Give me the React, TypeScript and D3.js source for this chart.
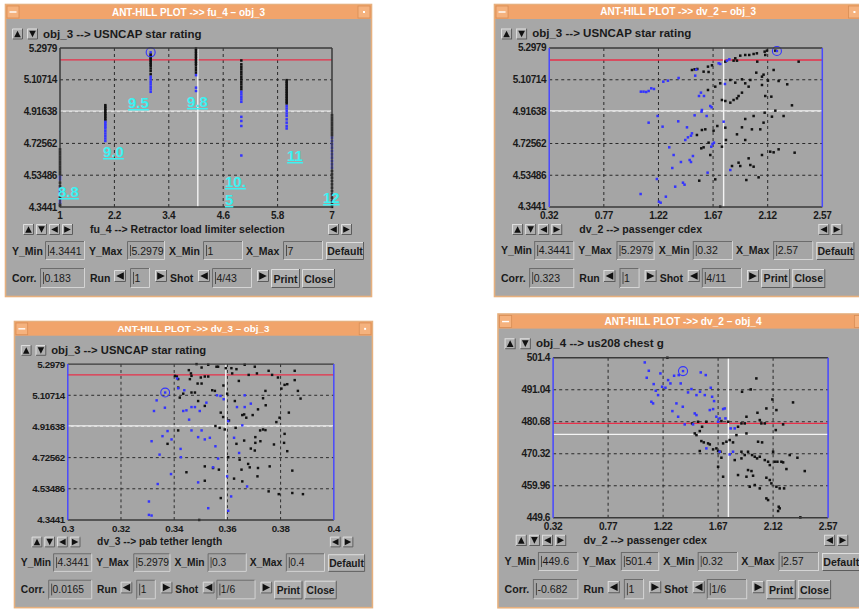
import React from 'react';
import * as d3 from 'd3';

type Pt = [number, number];

// ---------- fu_4 vs obj_3 (ant-hill columns) ----------
const fu4Cols = [1, 2, 3, 4, 5, 6, 7];
const fu4Black = [
  [4.69, 4.675, 4.66, 4.645, 4.63, 4.615, 4.6, 4.585, 4.57, 4.555, 4.54, 4.49, 4.47, 4.4, 4.36, 4.35],
  [4.955, 4.945, 4.935, 4.925, 4.915, 4.905, 4.895, 4.885, 4.875, 4.865],
  [5.26, 5.25, 5.24, 5.23, 5.22, 5.21, 5.2, 5.19, 5.175, 5.16, 5.14],
  [5.295, 5.285, 5.275, 5.265, 5.255, 5.245, 5.235, 5.225, 5.215, 5.205, 5.195, 5.18, 5.165, 5.15],
  [5.223, 5.2, 5.185, 5.17, 5.155, 5.14, 5.125, 5.11, 5.095, 5.08, 5.065, 5.05],
  [5.105, 5.095, 5.085, 5.075, 5.065, 5.055, 5.045, 5.035, 5.025, 5.015, 5.005, 4.995, 4.985, 4.975, 4.965],
  [4.895, 4.88, 4.865, 4.85, 4.835, 4.82, 4.805, 4.79, 4.775, 4.56, 4.54, 4.52, 4.5, 4.48, 4.46, 4.44, 4.42, 4.4, 4.38, 4.36, 4.345],
];
const fu4Blue = [
  [4.525, 4.51, 4.455, 4.44, 4.425, 4.385, 4.37],
  [4.855, 4.845, 4.835, 4.825, 4.815, 4.8, 4.785, 4.77, 4.755, 4.74],
  [5.125, 5.11, 5.095, 5.08, 5.065, 5.05, 5.035],
  [5.135, 5.06, 5.04],
  [5.035, 5.02, 5.005, 4.99, 4.975, 4.885, 4.86, 4.83, 4.653],
  [4.95, 4.935, 4.92, 4.905, 4.89, 4.87, 4.85, 4.83, 4.815],
  [4.76, 4.74, 4.72, 4.7, 4.68, 4.66, 4.64, 4.62, 4.6, 4.58],
];
const fu4Ratings = ['8.8', '9.0', '9.5', '9.8', '10.5', '11', '12'];
const fu4LabelX = [0.956, 1.949, 2.5, 3.8, 4.64, 6.01, 6.8];
const fu4LabelY = [4.434, 4.674, 4.968, 4.974, 4.494, 4.65, 4.398];

// ---------- dv_2 vs obj_3 ----------
const dv2o3Blue: Pt[] = [
  [1.075, 5.036], [1.097, 5.036], [1.119, 5.034], [1.139, 5.04], [1.161, 5.056], [1.183, 5.052],
  [1.26, 5.096], [1.298, 5.102], [1.386, 5.118], [1.523, 5.132], [1.531, 5.168],
  [1.139, 4.85], [1.213, 4.89], [1.254, 4.826], [1.383, 4.858], [1.455, 4.822], [1.496, 4.786], [1.488, 4.772],
  [1.463, 4.762], [1.441, 4.746], [1.309, 4.702], [1.345, 4.656], [1.405, 4.614], [1.334, 4.578], [1.358, 4.466],
  [1.422, 4.49], [1.435, 4.478], [1.207, 4.512], [1.073, 4.422], [1.224, 4.376], [1.238, 4.37], [1.281, 4.406],
  [1.477, 4.626], [1.488, 4.614], [1.504, 4.65], [1.57, 5.03], [1.554, 5.01], [1.595, 5.01], [1.578, 4.926],
  [1.575, 4.916], [1.647, 4.95], [1.658, 4.942], [1.617, 4.89], [1.518, 4.894], [1.666, 4.722], [1.655, 4.706],
  [1.677, 4.73], [1.625, 4.55], [1.757, 4.856], [1.768, 5.082], [1.812, 4.566], [1.716, 5.206], [1.729, 5.202],
  [1.784, 5.222], [1.804, 5.23],
];
const dv2o3Black: Pt[] = [
  [1.496, 5.166], [1.518, 5.17], [1.54, 5.172], [1.592, 5.156], [1.633, 5.154], [1.628, 5.186], [1.661, 5.194],
  [1.771, 5.216], [1.839, 5.222], [1.867, 5.222], [1.853, 5.236], [1.894, 5.252], [1.935, 5.256], [1.968, 5.256],
  [2.004, 5.262], [2.031, 5.266], [2.095, 5.276], [2.114, 5.282], [2.183, 5.282], [2.375, 5.216], [2.034, 5.216],
  [2.1, 5.256], [2.169, 5.166], [2.026, 5.15], [2.073, 5.126], [2.086, 5.138], [2.122, 5.102], [2.21, 5.1],
  [2.281, 5.08], [1.977, 5.106], [1.908, 5.11], [1.935, 5.086], [1.853, 5.09], [1.812, 5.106], [1.729, 5.086],
  [1.688, 5.066], [1.628, 5.046], [1.743, 4.986], [1.771, 4.98], [1.812, 4.97], [1.839, 4.986], [1.867, 4.996],
  [1.88, 5.01], [1.908, 5.03], [1.963, 5.066], [2.073, 5.076], [2.1, 5.01], [2.15, 5.006], [2.32, 4.954],
  [2.183, 4.922], [2.095, 4.91], [2.155, 4.886], [2.251, 4.89], [2.004, 4.89], [1.935, 4.872], [2.086, 4.85],
  [2.059, 4.81], [1.99, 4.81], [1.908, 4.822], [1.867, 4.78], [1.771, 4.82], [1.705, 4.83], [1.674, 4.802],
  [1.606, 4.81], [1.578, 4.806], [1.537, 4.776], [1.573, 4.696], [1.592, 4.702], [1.633, 4.73], [1.647, 4.656],
  [1.776, 4.746], [1.935, 4.746], [2.141, 4.676], [2.169, 4.672], [2.21, 4.69], [2.342, 4.67], [1.963, 4.636],
  [1.88, 4.61], [1.826, 4.59], [1.894, 4.59], [1.977, 4.596], [2.004, 4.586], [2.045, 4.522], [1.944, 4.506],
  [2.073, 4.656], [1.556, 4.502], [1.688, 4.51], [1.729, 4.346], [1.743, 4.706],
];

// ---------- dv_3 vs obj_3 ----------
const dv3o3Blue: Pt[] = [
  [0.3334, 5.076], [0.3324, 5.011], [0.3365, 5.031], [0.3411, 5.21], [0.3415, 5.15], [0.3438, 5.138],
  [0.3434, 5.011], [0.3446, 5.015], [0.3465, 5.035], [0.3478, 5.035], [0.3456, 4.958], [0.3496, 5.011],
  [0.3521, 5.062], [0.3561, 5.107], [0.3574, 5.103], [0.3586, 5.083], [0.3603, 4.949], [0.3636, 5.035],
  [0.3665, 5.035], [0.3665, 5.107], [0.3688, 5.056], [0.3656, 4.923], [0.3625, 4.847], [0.3644, 4.754],
  [0.3674, 4.549], [0.3614, 4.488], [0.3603, 4.4], [0.3599, 4.611], [0.3555, 4.795], [0.3546, 4.666],
  [0.3565, 4.72], [0.3534, 4.847], [0.3515, 4.837], [0.349, 4.851], [0.3465, 4.892], [0.3503, 4.892],
  [0.3424, 4.779], [0.3425, 4.728], [0.3388, 4.625], [0.3345, 4.744], [0.3356, 4.857], [0.3375, 4.888],
  [0.339, 4.837], [0.3315, 4.826], [0.3338, 4.564], [0.3305, 4.457], [0.3305, 4.375], [0.3315, 4.371],
  [0.3528, 4.416], [0.349, 4.574],
];
const dv3o3Black: Pt[] = [
  [0.3403, 5.226], [0.341, 5.222], [0.3415, 5.206], [0.3455, 5.261], [0.3463, 5.241], [0.3465, 5.226],
  [0.3459, 5.206], [0.3484, 5.298], [0.3503, 5.277], [0.3528, 5.294], [0.3559, 5.282], [0.3565, 5.282],
  [0.3515, 5.222], [0.3528, 5.222], [0.35, 5.216], [0.3488, 5.179], [0.3503, 5.179], [0.3594, 5.273],
  [0.3615, 5.273], [0.3634, 5.267], [0.3665, 5.294], [0.3703, 5.282], [0.3618, 5.241], [0.3643, 5.195],
  [0.368, 5.232], [0.3711, 5.241], [0.3755, 5.257], [0.3768, 5.232], [0.379, 5.216], [0.3853, 5.257],
  [0.3815, 5.171], [0.3825, 5.175], [0.3803, 5.148], [0.3865, 5.134], [0.3875, 5.087], [0.3743, 5.134],
  [0.3734, 5.089], [0.3744, 5.046], [0.3715, 5.021], [0.3695, 4.986], [0.3663, 4.99], [0.3656, 4.986],
  [0.3671, 4.97], [0.3606, 4.953], [0.3584, 4.974], [0.3575, 5.001], [0.3628, 5.072], [0.3599, 5.117],
  [0.3585, 5.167], [0.3553, 5.134], [0.3543, 5.138], [0.3478, 5.124], [0.3465, 5.124], [0.349, 5.072],
  [0.3515, 5.042], [0.3421, 5.093], [0.3415, 5.154], [0.3434, 5.117], [0.3555, 4.919], [0.3571, 4.908],
  [0.359, 4.898], [0.3631, 4.908], [0.3723, 4.892], [0.3734, 4.898], [0.3743, 4.894], [0.3705, 4.851],
  [0.3724, 4.826], [0.3705, 4.816], [0.3634, 4.81], [0.3663, 4.83], [0.3688, 4.781], [0.3703, 4.769],
  [0.3775, 4.806], [0.3784, 4.943], [0.3796, 4.97], [0.3831, 5.001], [0.3815, 4.871], [0.3813, 4.816],
  [0.3825, 4.765], [0.3844, 4.646], [0.3759, 4.672], [0.3713, 4.611], [0.3715, 4.662], [0.3678, 4.687],
  [0.3684, 4.666], [0.3653, 4.652], [0.3625, 4.597], [0.3656, 4.58], [0.3646, 4.713], [0.3603, 4.728],
  [0.3568, 4.652], [0.3546, 4.662], [0.3515, 4.672], [0.3515, 4.584], [0.3446, 4.636], [0.3415, 4.892],
  [0.3375, 4.81], [0.3575, 4.478], [0.3755, 4.519], [0.3793, 4.502], [0.3844, 4.509], [0.3884, 4.502],
  [0.3494, 4.344], [0.3853, 5.2],
];

// ---------- dv_2 vs obj_4 ----------
const dv2o4Blue: Pt[] = [
  [1.07, 499.89], [1.103, 497.19], [1.086, 494.92], [1.143, 492.87], [1.16, 490.72], [1.179, 489.31],
  [1.124, 487.15], [1.138, 486.62], [1.198, 496.33], [1.261, 494.17], [1.28, 493.09], [1.31, 495.57],
  [1.348, 495.79], [1.364, 493.09], [1.212, 492.01], [1.239, 491.69], [1.329, 486.62], [1.381, 485.54],
  [1.296, 484.13], [1.343, 482.3], [1.424, 490.18], [1.452, 491.26], [1.493, 489.31], [1.522, 490.39],
  [1.528, 496.65], [1.569, 495.79], [1.561, 489.31], [1.61, 491.69], [1.621, 488.77], [1.637, 487.37],
  [1.602, 484.46], [1.629, 484.78], [1.711, 484.78], [1.724, 484.99], [1.479, 483.38], [1.493, 482.84],
  [1.465, 479.82], [1.397, 479.82], [1.574, 472.05], [1.656, 482.3], [1.683, 481.76], [1.67, 480.68],
  [1.73, 481.76], [1.773, 478.52], [1.806, 478.52], [1.683, 470.97], [1.765, 470.1], [1.792, 470.97],
];
const dv2o4Black: Pt[] = [
  [1.255, 501.4], [1.866, 490.39], [1.937, 491.15], [1.983, 494.71], [2.114, 487.91], [2.283, 486.94],
  [2.147, 484.46], [1.992, 483.59], [1.902, 482.3], [2.065, 484.99], [2.011, 481.22], [2.024, 480.14],
  [2.052, 480.14], [2.202, 479.82], [2.142, 477.98], [1.888, 480.14], [1.861, 480.14], [1.833, 479.06],
  [1.82, 476.36], [1.752, 480.68], [1.697, 480.9], [1.574, 480.68], [1.539, 479.06], [1.52, 477.66],
  [1.479, 476.9], [1.493, 476.36], [1.533, 474.42], [1.553, 473.99], [1.588, 473.67], [1.602, 473.34],
  [1.629, 471.72], [1.656, 472.05], [1.67, 471.19], [1.689, 470.97], [1.711, 473.67], [1.738, 474.21],
  [1.765, 474.75], [1.792, 473.99], [1.902, 476.9], [1.997, 474.21], [2.03, 473.99], [1.697, 469.03],
  [1.67, 466.11], [1.711, 462.88], [1.806, 468.27], [1.861, 468.81], [1.861, 470.97], [1.888, 469.89],
  [1.915, 470.97], [1.948, 469.89], [1.97, 469.35], [1.989, 468.81], [2.011, 469.35], [2.052, 468.27],
  [2.079, 467.73], [2.093, 466.65], [2.12, 470.97], [2.133, 467.73], [2.155, 467.73], [2.188, 467.73],
  [2.202, 467.52], [2.256, 469.89], [2.319, 469.03], [2.229, 465.36], [2.379, 464.71], [1.915, 465.03],
  [1.943, 464.71], [1.902, 462.88], [1.956, 463.2], [1.833, 463.42], [1.929, 459.64], [1.97, 460.18],
  [2.011, 459.1], [2.065, 462.55], [2.093, 461.8], [2.106, 460.72], [2.147, 459.64], [2.174, 459.1],
  [2.21, 459.1], [2.065, 455.86], [2.079, 455.32], [2.166, 453.16], [2.174, 452.63], [2.161, 451.76],
  [2.343, 449.71], [1.52, 471.19], [1.506, 480.68], [1.457, 480.14],
];

const obj3Ticks = [4.3441, 4.53486, 4.72562, 4.91638, 5.10714, 5.2979];
const obj4Ticks = [449.6, 459.96, 470.32, 480.68, 491.04, 501.4];
const fu4Ticks = [1, 2.2, 3.4, 4.6, 5.8, 7];
const dv2Ticks = [0.32, 0.77, 1.22, 1.67, 2.12, 2.57];
const dv3Ticks = [0.3, 0.32, 0.34, 0.36, 0.38, 0.4];

const FONT = "'Liberation Sans', Arial, Helvetica, sans-serif";
const W = 367, H = 293;
const PL = 55, PR = 327, PT = 44, PB = 203;
const GRAY = '#a7a7a7';

function Bevel({ x, y, w, h, sunken }: any) {
  return (
    <g>
      <rect x={x} y={y} width={w} height={h} fill={sunken ? '#a5a5a5' : '#afafaf'} />
      <path d={`M${x + 0.5},${y + h}V${y + 0.5}H${x + w}`} fill="none" stroke={sunken ? '#6c6c6c' : '#dedede'} />
      <path d={`M${x + 0.5},${y + h - 0.5}H${x + w - 0.5}V${y}`} fill="none" stroke={sunken ? '#d4d4d4' : '#5c5c5c'} />
    </g>
  );
}

function Arrow({ x, y, s, dir }: any) {
  const p = 2.2, a = x + p, b = x + s - p, c = y + p, d = y + s - p, mx = x + s / 2, my = y + s / 2;
  const pts = dir === 'up' ? `${a},${d} ${b},${d} ${mx},${c}`
    : dir === 'down' ? `${a},${c} ${b},${c} ${mx},${d}`
    : dir === 'left' ? `${b},${c} ${b},${d} ${a},${my}` : `${a},${c} ${a},${d} ${b},${my}`;
  return (
    <g>
      <Bevel x={x} y={y} w={s} h={s} />
      <polygon points={pts} fill="#111" />
    </g>
  );
}

function Field({ x, y, w, h, value }: any) {
  return (
    <g>
      <Bevel x={x} y={y} w={w} h={h} sunken />
      <line x1={x + 3.5} x2={x + 3.5} y1={y + 4} y2={y + h - 4} stroke="#333" strokeWidth={0.8} />
      <text x={x + 4.5} y={y + h / 2 + 4} fontSize={10.5} fill="#1a1a1a">{value}</text>
    </g>
  );
}

function Button({ x, y, w, h, label }: any) {
  return (
    <g>
      <Bevel x={x} y={y} w={w} h={h} />
      <text x={x + w / 2} y={y + h / 2 + 4} fontSize={10.5} fontWeight="bold" textAnchor="middle" fill="#1a1a1a">{label}</text>
    </g>
  );
}

function Win(p: any) {
  const x = d3.scaleLinear().domain(p.xDomain).range([PL, PR]);
  const y = d3.scaleLinear().domain(p.yDomain).range([PB, PT]);
  const lbl = { fontSize: 10.5, fontWeight: 'bold', fill: '#1a1a1a' } as any;
  const sq = 2.5;
  return (
    <g transform={p.transform} fontFamily={FONT}>
      <rect x={0.5} y={0.5} width={W - 1} height={H - 1} fill={GRAY} stroke="#e6b07e" strokeWidth={1.6} />
      <rect x={1} y={1} width={W - 2} height={14} fill="#f1a46b" />
      <rect x={2} y={2} width={12} height={12} fill="#f5b27e" stroke="#d88d55" strokeWidth={0.8} />
      <line x1={4.5} x2={11.5} y1={8} y2={8} stroke="#fff" strokeWidth={1.4} />
      <rect x={W - 14} y={2} width={12} height={12} fill="#f5b27e" stroke="#d88d55" strokeWidth={0.8} />
      <rect x={W - 9} y={7} width={2} height={2} fill="#fff" />
      <text x={W / 2} y={11.5} fontSize={10} fontWeight="bold" fill="#fff" textAnchor="middle">{p.title}</text>

      <Arrow x={7} y={24.5} s={11} dir="up" />
      <Arrow x={22} y={24.5} s={11} dir="down" />
      <text x={38} y={33.5} fontSize={11.5} fontWeight="bold" fill="#1a1a1a">{p.yName}</text>

      <rect x={PL} y={PT} width={PR - PL} height={PB - PT} fill="#a5a5a5" />
      {p.xTicks.slice(1, -1).map((t: number) => (
        <line key={'gx' + t} x1={x(t)} x2={x(t)} y1={PT} y2={PB} stroke="#2a2a2a" strokeDasharray="3 3" />
      ))}
      {p.yTicks.slice(1, -1).map((t: number) => (
        <line key={'gy' + t} x1={PL} x2={PR} y1={y(t)} y2={y(t)} stroke="#2a2a2a" strokeDasharray="3 3" />
      ))}
      <line x1={PL} x2={PR} y1={y(p.redY)} y2={y(p.redY)} stroke="#e8304a" strokeWidth={1.3} />
      <line x1={PL} x2={PR} y1={y(p.whiteY)} y2={y(p.whiteY)} stroke="#f4f4f4" strokeWidth={1.4} />
      <line x1={x(p.whiteX)} x2={x(p.whiteX)} y1={PT} y2={PB} stroke="#f4f4f4" strokeWidth={1.4} />

      {p.black.map((d: Pt, i: number) => (
        <rect key={'k' + i} x={x(d[0]) - sq / 2} y={y(d[1]) - sq / 2} width={sq} height={sq} fill="#111" />
      ))}
      {p.blue.map((d: Pt, i: number) => (
        <rect key={'b' + i} x={x(d[0]) - sq / 2} y={y(d[1]) - sq / 2} width={sq} height={sq} fill="#3434ff" />
      ))}
      <circle cx={x(p.picked[0])} cy={y(p.picked[1])} r={4.5} fill="none" stroke="#3434ff" strokeWidth={1.1} />
      <rect x={x(p.picked[0]) - 1.2} y={y(p.picked[1]) - 1.2} width={2.4} height={2.4} fill="#3434ff" />

      <line x1={PL} x2={PR} y1={PT} y2={PT} stroke="#3a3a3a" strokeWidth={1.5} />
      <line x1={PL} x2={PR} y1={PB} y2={PB} stroke="#3a3a3a" strokeWidth={1.5} />
      <line x1={PL} x2={PL} y1={PT} y2={PB} stroke={p.side} strokeWidth={1.5} />
      <line x1={PR} x2={PR} y1={PT} y2={PB} stroke={p.side} strokeWidth={1.5} />
      {p.children}

      {p.yTicks.map((t: number) => (
        <text key={'ty' + t} x={PL - 3} y={y(t) + 3.5} fontSize={10} fontWeight="bold" letterSpacing={-0.4}
          textAnchor="end" fill="#1a1a1a">{String(t)}</text>
      ))}
      {p.xTicks.map((t: number) => (
        <text key={'tx' + t} x={x(t)} y={215} fontSize={10} fontWeight="bold" letterSpacing={-0.3}
          textAnchor="middle" fill="#1a1a1a">{String(t)}</text>
      ))}

      <Arrow x={18} y={220} s={11} dir="up" />
      <Arrow x={31} y={220} s={11} dir="down" />
      <Arrow x={44} y={220} s={11} dir="left" />
      <Arrow x={57} y={220} s={11} dir="right" />
      <text x={85} y={229} fontSize={10.5} fontWeight="bold" fill="#1a1a1a">{p.xName}</text>
      <Arrow x={323} y={220} s={11} dir="left" />
      <Arrow x={336} y={220} s={11} dir="right" />

      <text x={7} y={250.5} {...lbl}>Y_Min</text>
      <Field x={40} y={237} w={40} h={19} value={p.fields[0]} />
      <text x={84} y={250.5} {...lbl}>Y_Max</text>
      <Field x={122} y={237} w={38} h={19} value={p.fields[1]} />
      <text x={164} y={250.5} {...lbl}>X_Min</text>
      <Field x={198} y={237} w={40} h={19} value={p.fields[2]} />
      <text x={241} y={250.5} {...lbl}>X_Max</text>
      <Field x={278} y={237} w={40} h={19} value={p.fields[3]} />
      <Button x={321} y={238} w={38} h={18} label="Default" />

      <text x={7} y={278} {...lbl}>Corr.</text>
      <Field x={35} y={264} w={45} h={20} value={p.corr} />
      <text x={85} y={278} {...lbl}>Run</text>
      <Arrow x={109} y={266} s={12} dir="left" />
      <Field x={125} y={264} w={20} h={20} value={p.run} />
      <Arrow x={150} y={266} s={12} dir="right" />
      <text x={165} y={278} {...lbl}>Shot</text>
      <Arrow x={193} y={266} s={12} dir="left" />
      <Field x={207} y={264} w={40} h={20} value={p.shot} />
      <Arrow x={252} y={266} s={12} dir="right" />
      <Button x={266} y={265} w={29} h={19} label="Print" />
      <Button x={297} y={265} w={33} h={19} label="Close" />
    </g>
  );
}

export default function App() {
  const fu4BlackPts: Pt[] = fu4Cols.flatMap((c, i) => fu4Black[i].map((v) => [c, v] as Pt));
  const fu4BluePts: Pt[] = fu4Cols.flatMap((c, i) => fu4Blue[i].map((v) => [c, v] as Pt));
  const fx = d3.scaleLinear().domain([1, 7]).range([PL, PR]);
  const fy = d3.scaleLinear().domain([4.3441, 5.2979]).range([PB, PT]);
  const ratingLabels = fu4Ratings.map((r, i) => (
    <text key={r} x={fx(fu4LabelX[i])} y={fy(fu4LabelY[i]) + 5} fontSize={15} fontWeight="bold" fill="#3cf2f2"
      style={{ textDecoration: 'underline' }}>
      {r.length > 3 ? <><tspan>{r.slice(0, 3)}</tspan><tspan x={fx(fu4LabelX[i])} dy={18}>{r.slice(3)}</tspan></> : r}
    </text>
  ));
  return (
    <svg width={859} height={609} style={{ position: 'absolute', left: 0, top: 0 }}>
      <rect width={859} height={609} fill="#fff" />
      <Win transform="translate(5,4)" title="ANT-HILL PLOT ->> fu_4 – obj_3"
        yName="obj_3 --> USNCAP star rating" xName="fu_4 --> Retractor load limiter selection"
        xDomain={[1, 7]} yDomain={[4.3441, 5.2979]} xTicks={fu4Ticks} yTicks={obj3Ticks}
        black={fu4BlackPts} blue={fu4BluePts} picked={[3, 5.272]} side="#3a3a3a"
        redY={5.227} whiteY={4.919} whiteX={4.04}
        fields={['4.3441', '5.2979', '1', '7']} corr="0.183" run="1" shot="4/43">
        {ratingLabels}
      </Win>
      <Win transform="translate(494,4) scale(1.004,1)" title="ANT-HILL PLOT ->> dv_2 – obj_3"
        yName="obj_3 --> USNCAP star rating" xName="dv_2 --> passenger cdex"
        xDomain={[0.32, 2.57]} yDomain={[4.3441, 5.2979]} xTicks={dv2Ticks} yTicks={obj3Ticks}
        black={dv2o3Black} blue={dv2o3Blue} picked={[2.196, 5.28]} side="#4848ff"
        redY={5.226} whiteY={4.92} whiteX={1.757}
        fields={['4.3441', '5.2979', '0.32', '2.57']} corr="0.323" run="1" shot="4/11" />
      <Win transform="translate(14,321) scale(0.978,0.98)" title="ANT-HILL PLOT ->> dv_3 – obj_3"
        yName="obj_3 --> USNCAP star rating" xName="dv_3 --> pab tether length"
        xDomain={[0.3, 0.4]} yDomain={[4.3441, 5.2979]} xTicks={dv3Ticks} yTicks={obj3Ticks}
        black={dv3o3Black} blue={dv3o3Blue} picked={[0.3366, 5.124]} side="#4848ff"
        redY={5.232} whiteY={4.919} whiteX={0.3594}
        fields={['4.3441', '5.2979', '0.3', '0.4']} corr="0.0165" run="1" shot="1/6" />
      <Win transform="translate(497.5,313.5) scale(1.011,1.006)" title="ANT-HILL PLOT ->> dv_2 – obj_4"
        yName="obj_4 --> us208 chest g" xName="dv_2 --> passenger cdex"
        xDomain={[0.32, 2.57]} yDomain={[449.6, 501.4]} xTicks={dv2Ticks} yTicks={obj4Ticks}
        black={dv2o4Black} blue={dv2o4Blue} picked={[1.383, 497.08]} side="#4848ff"
        redY={480.14} whiteY={476.58} whiteX={1.754}
        fields={['449.6', '501.4', '0.32', '2.57']} corr="-0.682" run="1" shot="1/6" />
    </svg>
  );
}
